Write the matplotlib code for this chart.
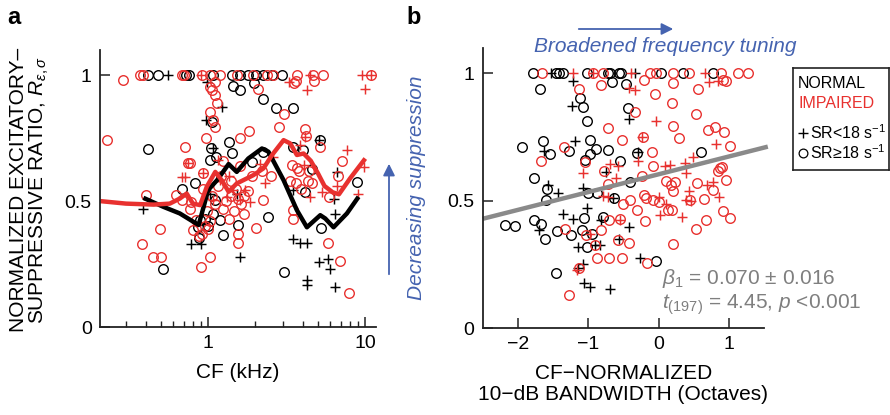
import matplotlib
matplotlib.use("Agg")
import matplotlib.pyplot as plt
from matplotlib.patches import FancyArrowPatch
import numpy as np

plt.rcParams['font.family'] = ['Liberation Sans', 'DejaVu Sans']
plt.rcParams['mathtext.fontset'] = 'custom'
plt.rcParams['mathtext.rm'] = 'Liberation Sans'
plt.rcParams['mathtext.it'] = 'Liberation Sans:italic'
plt.rcParams['mathtext.bf'] = 'Liberation Sans:bold'

RED = '#e8312f'
BLUE = '#4563b0'
GRAY = '#8a8a8a'

# ---------------- Panel a data (CF kHz, ratio) ----------------
a_imp_circ_cf = [0.369, 0.384, 0.68, 0.70, 0.91, 1.03, 1.19, 1.52, 1.94, 2.36, 2.60, 3.66, 4.68, 5.42, 10.8,
                 0.288, 3.5, 3.6, 4.7, 1.03, 1.1, 1.06, 1.108, 1.136, 1.03, 1.108, 1.076, 2.07, 0.97,
                 0.226, 0.404, 0.381, 0.445, 0.499, 0.497, 0.628, 0.714, 0.746, 0.764, 0.686, 0.783, 0.764,
                 0.80, 0.843, 0.906, 0.87, 0.92, 0.95, 1.0, 1.03, 0.934, 0.93, 1.06, 1.1, 1.15, 1.2, 1.25,
                 1.3, 1.35, 1.4, 1.45, 1.5, 1.55, 1.62, 1.7, 1.8, 1.9, 1.25, 1.6, 2.2, 2.5, 1.025, 1.56,
                 1.55, 1.6, 1.81, 2.01, 2.24, 2.81, 3.02, 3.49, 3.45, 3.6, 3.8, 4.14, 4.2, 4.3, 4.4, 3.7,
                 3.9, 4.6, 5.16, 5.83, 6.92, 7.83, 7.1, 5.84, 6.7, 3.44, 3.3, 1.4, 1.7, 0.98]
a_imp_circ_r = [1.0, 1.0, 1.0, 1.0, 1.0, 1.0, 1.0, 1.0, 1.0, 1.0, 1.0, 1.0, 1.0, 1.0, 1.0,
                0.98, 0.97, 0.975, 0.976, 0.953, 0.973, 0.94, 0.92, 0.888, 0.854, 0.795, 0.821, 0.947, 0.751,
                0.742, 0.526, 0.328, 0.278, 0.278, 0.39, 0.523, 0.716, 0.651, 0.652, 0.503, 0.497, 0.47,
                0.384, 0.424, 0.238, 0.36, 0.37, 0.40, 0.39, 0.42, 0.611, 0.55, 0.52, 0.49, 0.56, 0.60, 0.47,
                0.50, 0.43, 0.52, 0.46, 0.55, 0.51, 0.49, 0.52, 0.54, 0.60, 0.66, 0.64, 0.62, 0.60, 0.278, 0.335,
                0.37, 0.749, 0.778, 0.392, 0.503, 0.795, 0.844, 0.464, 0.43, 0.57, 0.62, 0.788, 0.76, 0.58, 0.62, 0.63,
                0.55, 0.57, 0.715, 0.335, 0.262, 0.134, 0.659, 0.517, 0.60, 0.643, 0.58, 0.58, 0.45, 0.46]

a_imp_plus_cf = [0.90, 3.25, 4.46, 9.5, 10.8, 4.25, 10.0, 0.686, 0.745, 0.93, 1.16, 1.44, 1.59, 1.84,
                 2.14, 2.31, 2.60, 3.85, 4.14, 4.05, 4.45, 5.3, 7.64, 9.76, 9.0, 1.07, 1.19, 1.31, 1.71,
                 6.6, 1.35, 0.714]
a_imp_plus_r = [1.0, 0.973, 1.0, 1.0, 1.0, 0.94, 0.947, 0.596, 0.65, 0.61, 0.662, 0.543, 0.503, 0.497,
                0.649, 0.57, 0.675, 0.722, 0.755, 0.643, 0.517, 0.536, 0.702, 0.636, 0.53, 0.503, 0.583, 0.517, 0.543,
                0.56, 0.60, 0.596]

a_nor_circ_cf = [0.417, 0.482, 0.724, 0.76, 1.08, 1.41, 1.59, 1.80, 2.03, 2.24, 2.54, 2.94,
                 0.413, 0.516, 0.686, 0.826, 0.863, 0.876, 0.885, 1.02, 1.05, 1.13, 1.08, 1.10, 1.19,
                 1.25, 1.35, 1.41, 1.436, 1.59, 1.56, 1.89, 1.96, 2.24, 2.24, 2.4, 2.70, 3.06, 3.49, 3.49,
                 4.04, 4.14, 4.56, 5.16, 5.25, 8.83, 1.055, 0.95, 1.0]
a_nor_circ_r = [1.0, 1.0, 1.0, 1.0, 1.0, 1.0, 1.0, 1.0, 1.0, 1.0, 1.0, 1.0,
                0.705, 0.232, 0.55, 0.571, 0.397, 0.355, 0.424, 0.663, 0.709, 0.675, 0.45, 0.503, 0.424,
                0.364, 0.735, 0.689, 0.958, 0.94, 0.407, 0.656, 0.97, 0.907, 0.695, 0.438, 0.868, 0.219, 0.868, 0.715,
                0.702, 0.536, 0.629, 0.742, 0.392, 0.577, 0.815, 0.43, 0.40]

a_nor_plus_cf = [0.559, 0.99, 0.387, 0.783, 0.971, 1.222, 1.6, 1.52, 3.49, 3.49, 3.85, 4.25, 4.25, 4.25,
                 5.04, 5.83, 5.98, 6.43, 6.43, 6.28, 6.6, 5.04, 1.08, 0.90, 1.02]
a_nor_plus_r = [1.0, 0.973, 0.467, 0.331, 0.821, 0.874, 0.279, 0.53, 0.543, 0.348, 0.332, 0.332, 0.187, 0.167,
                0.259, 0.272, 0.229, 0.158, 0.448, 0.51, 0.616, 0.742, 0.709, 0.33, 0.53]

# smoothed trends (panel a)
trend_imp_cf = [0.205, 0.3, 0.45, 0.57, 0.66, 0.73, 0.80, 0.89, 0.98, 1.11, 1.22, 1.35, 1.52, 1.94, 2.25,
                2.55, 3.02, 3.33, 3.67, 4.05, 4.5, 5.0, 5.5, 6.2, 6.8, 8.0, 10.0]
trend_imp_r = [0.500, 0.490, 0.486, 0.490, 0.510, 0.530, 0.490, 0.484, 0.557, 0.616, 0.583, 0.537, 0.570,
               0.603, 0.630, 0.683, 0.742, 0.729, 0.683, 0.689, 0.660, 0.610, 0.560, 0.535, 0.527, 0.590, 0.669]
trend_nor_cf = [0.387, 0.52, 0.66, 0.87, 0.93, 1.0, 1.14, 1.35, 1.52, 1.8, 2.2, 2.42, 3.02, 3.67, 4.25,
                5.17, 5.56, 6.28, 7.64, 9.06]
trend_nor_r = [0.513, 0.477, 0.451, 0.405, 0.471, 0.544, 0.583, 0.647, 0.616, 0.669, 0.709, 0.696, 0.583,
               0.464, 0.396, 0.444, 0.431, 0.396, 0.451, 0.517]

# ---------------- Panel b data (bandwidth octaves, ratio) ----------------
b_nor_circ_bw = [-1.79, -1.46, -1.41, -1.36, -1.025, -0.718, -0.685, -0.562, -0.529, 0.038, 0.345, 0.77,
                 -1.686, -1.12, -1.072, -1.025, -0.657, -0.458, -0.435, -0.978, -1.649, -1.946, -1.545,
                 -1.275, -0.893, -0.978, -1.049, -0.718, -0.553, -0.302, 0.605, -1.771, -1.592, -1.601,
                 -1.001, -0.874, -0.633, -0.411, -2.182, -2.041, -1.771, -1.677, -1.620, -1.441, -1.252,
                 -1.058, -1.096, -1.025, -0.954, -0.798, -1.464, -0.043]
b_nor_circ_r = [1.0, 1.0, 1.0, 1.0, 1.0, 1.0, 1.0, 1.0, 1.0, 1.0, 1.0, 1.0,
                0.9375, 0.905, 0.868, 0.814, 0.966, 0.957, 0.863, 0.738, 0.736, 0.71, 0.684,
                0.697, 0.703, 0.684, 0.66, 0.699, 0.658, 0.689, 0.69, 0.589, 0.547, 0.501,
                0.53, 0.53, 0.51, 0.573, 0.404, 0.401, 0.426, 0.408, 0.348, 0.38, 0.365,
                0.434, 0.384, 0.319, 0.371, 0.436, 0.215, 0.264]

b_nor_plus_bw = [-1.53, -1.223, -0.34, -1.237, -0.421, -1.190, -1.63, -0.751, -1.568, -1.426, -1.072,
                 -1.356, -1.223, -1.025, -0.822, -1.696, -0.421, -1.143, -0.836, -0.907, -0.562, -1.072,
                 -1.143, -1.058, -0.978, -0.694, -0.26, -0.647, -0.293]
b_nor_plus_r = [1.0, 0.97, 1.0, 0.872, 0.82, 0.736, 0.697, 0.612, 0.5625, 0.53, 0.549,
                0.447, 0.427, 0.473, 0.423, 0.384, 0.397, 0.319, 0.328, 0.328, 0.348, 0.25,
                0.234, 0.178, 0.163, 0.152, 0.276, 0.51, 0.69]

b_imp_circ_bw = [-1.663, -0.931, -0.798, -0.128, -0.033, 0.203, 0.43, 0.89, 1.124, 1.266,
                 0.912, 0.959, -1.129, -0.822, -0.213, 0.203, 0.557, -0.057, 0.189, -0.34, 0.524, 0.203,
                 0.699, 0.794, 0.921, -0.727, -0.515, -0.222, 0.288, -1.346, 1.006, -1.672, -1.049,
                 -0.775, -0.090, -0.080, -0.231, 0.109, 0.18, 0.227, 0.203, 0.543, 0.77, 0.864, 0.902,
                 0.841, 0.949, 0.638, 0.439, -0.718, -0.505, -0.411, -0.213, -0.175, -0.080, 0.005,
                 0.132, 0.193, -0.307, -0.189, -0.704, -0.553, -0.822, -1.035, -0.907, -1.332, -0.421,
                 -0.576, -0.874, -0.704, -0.515, -0.165, 0.203, 0.534, 0.666, 0.912, 1.006, -1.129, -1.275]
b_imp_circ_r = [1.0, 1.0, 1.0, 1.0, 1.0, 1.0, 1.0, 1.0, 1.0, 1.0,
                0.973, 0.97, 0.9375, 0.953, 0.974, 0.961, 0.94, 0.918, 0.885, 0.849, 0.842, 0.794,
                0.777, 0.79, 0.771, 0.784, 0.738, 0.751, 0.745, 0.712, 0.716, 0.655, 0.651,
                0.615, 0.69, 0.635, 0.599, 0.579, 0.56, 0.573, 0.54, 0.57, 0.544, 0.629, 0.634,
                0.616, 0.582, 0.505, 0.501, 0.566, 0.488, 0.504, 0.521, 0.51, 0.504, 0.495,
                0.465, 0.465, 0.462, 0.419, 0.423, 0.43, 0.384, 0.367, 0.326, 0.387, 0.332,
                0.345, 0.276, 0.276, 0.276, 0.256, 0.329, 0.387, 0.426, 0.46, 0.434, 0.234, 0.128]

b_imp_plus_bw = [-1.223, -0.931, -0.4, 0.652, 0.713, 0.841, -0.421, -0.34, -0.043, -0.231, 0.817,
                 0.487, 0.378, -0.293, -0.694, -0.576, -1.072, -0.6, 0.085, 0.165, 0.383, 0.77, 0.430,
                 0.685, 0.855, 0.392, 0.463, 0.005, 0.014, 0.099, 0.331, -0.798, -0.718, -0.553,
                 -1.167, -0.978]
b_imp_plus_r = [1.0, 1.0, 1.0, 1.0, 0.966, 0.97, 0.941, 0.934, 0.814, 0.749, 0.723,
                0.673, 0.648, 0.655, 0.645, 0.638, 0.608, 0.589, 0.635, 0.642, 0.608, 0.573, 0.538,
                0.56, 0.514, 0.501, 0.497, 0.514, 0.445, 0.488, 0.436, 0.517, 0.514, 0.423,
                0.228, 0.371]

fit_bw = [-2.5, 1.55]
fit_slope = 0.070
fit_intercept = 0.604

# ---------------- Figure ----------------
fig = plt.figure(figsize=(8.9, 4.15), dpi=100)
W, H = 890.0, 415.0
ax_a = fig.add_axes([100 / W, (H - 327) / H, 276 / W, 277 / H])
ax_b = fig.add_axes([482.7 / W, (H - 328) / H, 281.6 / W, 280 / H])

circ_kw = dict(linestyle='none', marker='o', markersize=6.9, markerfacecolor='none', markeredgewidth=1.0)
plus_kw = dict(linestyle='none', marker='+', markersize=7.2, markeredgewidth=1.05)

def style(ax):
    for s in ['top', 'right']:
        ax.spines[s].set_visible(False)
    for s in ['left', 'bottom']:
        ax.spines[s].set_linewidth(1.3)
        ax.spines[s].set_color('#222222')
    ax.tick_params(axis='both', which='major', direction='in', length=7, width=1.1,
                   labelsize=14, color='#222222', pad=6)
    ax.tick_params(axis='both', which='minor', direction='in', length=4, width=1.0, color='#222222')

# Panel a
ax_a.plot(a_nor_circ_cf, a_nor_circ_r, color='black', **circ_kw)
ax_a.plot(a_nor_plus_cf, a_nor_plus_r, color='black', **plus_kw)
ax_a.plot(a_imp_circ_cf, a_imp_circ_r, markeredgecolor=RED, color=RED, **circ_kw)
ax_a.plot(a_imp_plus_cf, a_imp_plus_r, color=RED, **plus_kw)
ax_a.plot(trend_nor_cf, trend_nor_r, color='black', lw=3.2, solid_capstyle='butt')
ax_a.plot(trend_imp_cf, trend_imp_r, color=RED, lw=3.2, solid_capstyle='butt')
ax_a.set_xscale('log')
ax_a.set_xlim(0.205, 11.7)
ax_a.set_ylim(0, 1.1)
ax_a.set_xticks([1, 10])
ax_a.set_xticklabels(['1', '10'])
ax_a.set_yticks([0, 0.5, 1])
ax_a.set_yticklabels(['0', '0.5', '1'])
style(ax_a)
ax_a.set_xlabel('CF (kHz)', fontsize=15, labelpad=8)

fig.text(30 / W, 1 - 190 / H, 'NORMALIZED EXCITATORY\u2013\nSUPPRESSIVE RATIO, $R_{\\varepsilon,\\sigma}$',
         rotation=90, ha='center', va='center', multialignment='center', fontsize=15, linespacing=1.05)

# Panel b
ax_b.plot(b_nor_circ_bw, b_nor_circ_r, color='black', **circ_kw)
ax_b.plot(b_nor_plus_bw, b_nor_plus_r, color='black', **plus_kw)
ax_b.plot(b_imp_circ_bw, b_imp_circ_r, markeredgecolor=RED, color=RED, **circ_kw)
ax_b.plot(b_imp_plus_bw, b_imp_plus_r, color=RED, **plus_kw)
fx = np.array(fit_bw)
ax_b.plot(fx, fit_intercept + fit_slope * fx, color=GRAY, lw=3.2, clip_on=False, solid_capstyle='butt')
ax_b.set_xlim(-2.5, 1.5)
ax_b.set_ylim(0, 1.1)
ax_b.set_xticks([-2, -1, 0, 1])
ax_b.set_yticks([0, 0.5, 1])
ax_b.set_yticklabels(['0', '0.5', '1'])
style(ax_b)
ax_b.set_xlabel('CF\u2212NORMALIZED\n10\u2212dB BANDWIDTH (Octaves)', fontsize=15, labelpad=8, linespacing=1.1)

ax_b.text(0.05, 0.195, '$\\mathit{\\beta_1}$ = 0.070 \u00b1 0.016', color='#7f7f7f', fontsize=15, va='center')
ax_b.text(0.05, 0.09, '$t_{(197)}$ = 4.45, $p$ <0.001', color='#7f7f7f', fontsize=15, va='center')

# Annotations
fig.text(7 / W, 1 - 17 / H, 'a', fontsize=17, fontweight='bold', va='center', ha='left')
fig.text(406 / W, 1 - 17 / H, 'b', fontsize=17, fontweight='bold', va='center', ha='left')

fig.text(416 / W, 1 - 188 / H, 'Decreasing suppression', rotation=90, color=BLUE, style='italic',
         fontsize=15, ha='center', va='center')
fig.add_artist(FancyArrowPatch((389 / W, 1 - 277 / H), (389 / W, 1 - 161 / H), transform=fig.transFigure,
                               arrowstyle='-|>,head_length=7,head_width=3.5', color=BLUE, lw=1.3))
fig.text(665 / W, 1 - 46 / H, 'Broadened frequency tuning', color=BLUE, style='italic',
         fontsize=15, ha='center', va='center')
fig.add_artist(FancyArrowPatch((576 / W, 1 - 29 / H), (676 / W, 1 - 29 / H), transform=fig.transFigure,
                               arrowstyle='-|>,head_length=7,head_width=3.5', color=BLUE, lw=1.3))

# Legend box
ax_l = fig.add_axes([793 / W, (H - 170) / H, 96 / W, 102 / H])
ax_l.set_xlim(0, 96)
ax_l.set_ylim(102, 0)
ax_l.set_xticks([])
ax_l.set_yticks([])
for s in ax_l.spines.values():
    s.set_linewidth(1.2)
    s.set_color('#222222')
ax_l.text(5, 15, 'NORMAL', fontsize=11.5, va='center', ha='left', color='black')
ax_l.text(5, 36, 'IMPAIRED', fontsize=11.5, va='center', ha='left', color=RED)
ax_l.plot([10], [65], color='black', marker='+', markersize=7, markeredgewidth=1.0)
ax_l.plot([10], [85], color='black', marker='o', markersize=6.3, markerfacecolor='none', markeredgewidth=0.9)
ax_l.text(17, 65, 'SR<18 s$^{-1}$', fontsize=11.5, va='center', ha='left')
ax_l.text(17, 85, 'SR\u226518 s$^{-1}$', fontsize=11.5, va='center', ha='left')

fig.savefig('out.png', dpi=100)
